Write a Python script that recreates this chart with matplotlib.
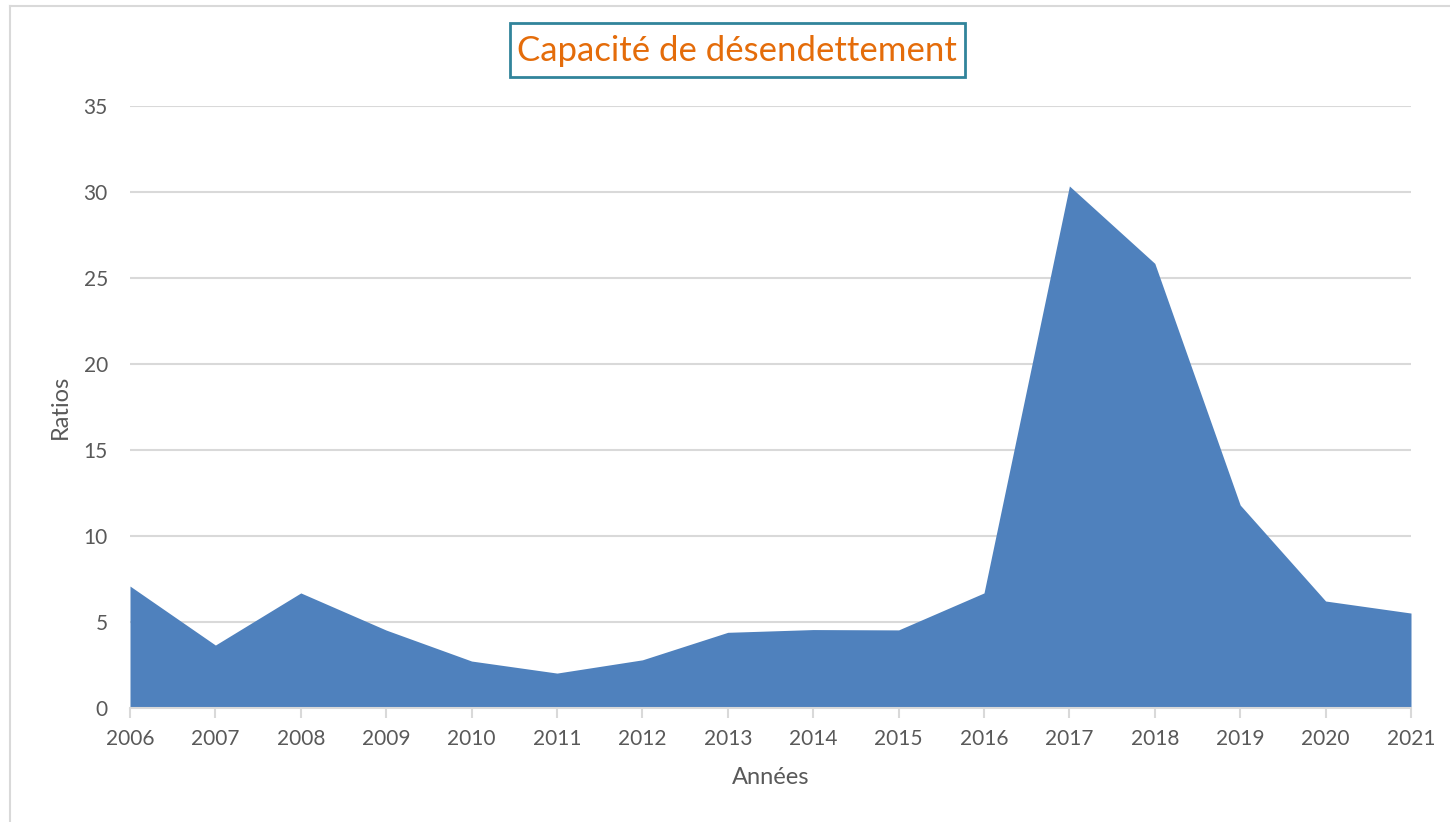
import matplotlib
matplotlib.use("Agg")
import matplotlib.pyplot as plt
from matplotlib.lines import Line2D
from matplotlib.patches import Rectangle

years = [2006, 2007, 2008, 2009, 2010, 2011, 2012, 2013, 2014, 2015, 2016, 2017, 2018, 2019, 2020, 2021]
ratios = [7.09, 3.66, 6.69, 4.53, 2.73, 2.03, 2.80, 4.40, 4.56, 4.54, 6.69, 30.35, 25.85, 11.80, 6.22, 5.52]
yticks = [0, 5, 10, 15, 20, 25, 30, 35]

title = "Capacité de désendettement"
xlabel = "Années"
ylabel = "Ratios"

plt.rcParams['font.family'] = ['Lato', 'DejaVu Sans']
txt = '#595959'
grid = '#D9D9D9'
W, H = 1450, 822

fig = plt.figure(figsize=(14.5, 8.22), dpi=100)
ax = fig.add_axes([130/W, 1-708/H, (1411-130)/W, (708-106)/H])

ax.fill_between(years, ratios, 0, color='#4F81BD', linewidth=0, zorder=2)
ax.set_xlim(years[0], years[-1])
ax.set_ylim(0, 35)
ax.set_yticks(yticks)
ax.set_xticks(years)
ax.set_xticklabels([str(y) for y in years])
ax.yaxis.grid(True, color=grid, linewidth=1.5, zorder=0)
ax.set_axisbelow(True)
for s in ['top', 'right', 'left']:
    ax.spines[s].set_visible(False)
ax.spines['bottom'].set_color(grid)
ax.spines['bottom'].set_linewidth(1.5)
ax.spines['bottom'].set_zorder(3)
ax.tick_params(axis='x', colors=grid, length=7, width=1.5, labelcolor=txt, labelsize=15, pad=8)
ax.tick_params(axis='y', length=0, labelcolor=txt, labelsize=15, pad=16)

ax.set_xlabel(xlabel, fontsize=17, color=txt, labelpad=13)
ax.set_ylabel(ylabel, fontsize=17, color=txt, labelpad=9)

# title box
fig.add_artist(Rectangle((510/W, 1-77/H), (965-510)/W, (77-23)/H, transform=fig.transFigure,
                         facecolor='white', edgecolor='#31849B', linewidth=2))
fig.text(737/W, 1-51/H, title, fontsize=25, color='#E46C0A', ha='center', va='center')

# chart border (left and top visible)
fig.add_artist(Line2D([9.5/W, 9.5/W], [0, 1-6.5/H], transform=fig.transFigure, color=grid, linewidth=1.5))
fig.add_artist(Line2D([9.5/W, 1], [1-6.5/H, 1-6.5/H], transform=fig.transFigure, color=grid, linewidth=1.5))

fig.savefig("out.png", dpi=100)
